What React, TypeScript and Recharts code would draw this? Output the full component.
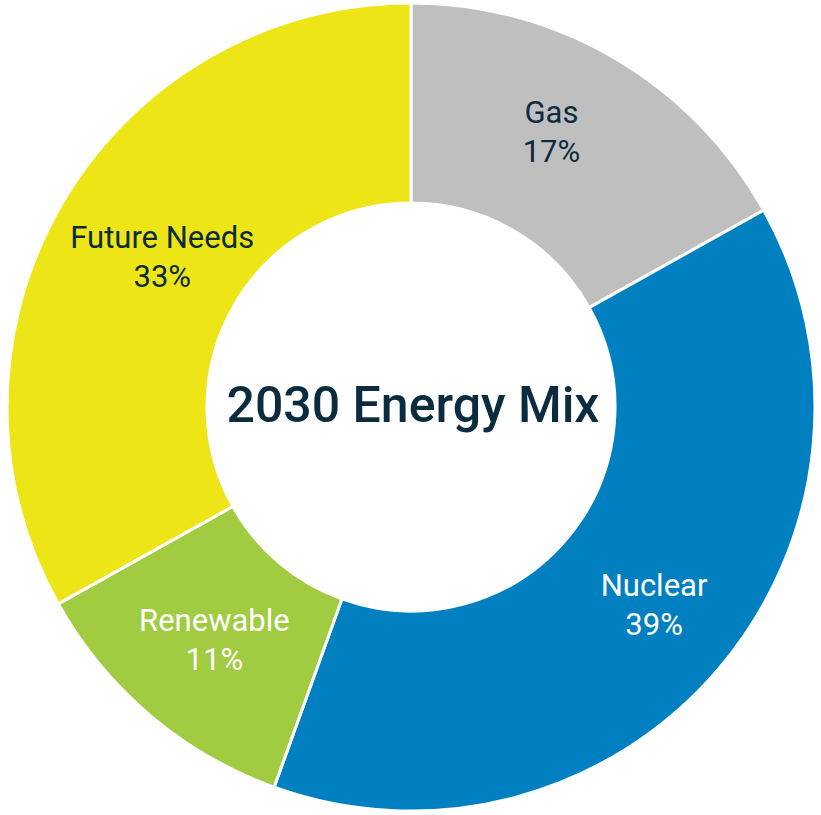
import { PieChart, Pie, Cell } from 'recharts';

const sources = ['Gas', 'Nuclear', 'Renewable', 'Future Needs'];
const shares = [16.9, 38.6, 11.4, 33.1];
const colors = ['#BFBFBF', '#0180C1', '#A1CB41', '#EDE516'];
const labelColors = ['#0B2B3E', '#FFFFFF', '#FFFFFF', '#0B2B3E'];
// small per-label nudges so the text sits where the original placed it
const labelNudge = [
  [-15, -11],
  [9, -2],
  [2, -2],
  [16, 4],
];

const data = sources.map((name, i) => ({ name, value: shares[i] }));
const RADIAN = Math.PI / 180;

const renderLabel = (props: any) => {
  const { cx, cy, midAngle, innerRadius, outerRadius, index } = props;
  const r = (innerRadius + outerRadius) / 2 + 3;
  const x = cx + r * Math.cos(-midAngle * RADIAN) + labelNudge[index][0];
  const y = cy + r * Math.sin(-midAngle * RADIAN) + labelNudge[index][1];
  return (
    <text x={x} y={y} textAnchor="middle" fill={labelColors[index]} fontSize={31} fontFamily="Roboto">
      <tspan x={x} dy={-8}>{sources[index]}</tspan>
      <tspan x={x} dy={39}>{Math.round(shares[index])}%</tspan>
    </text>
  );
};

export default function App() {
  return (
    <div style={{ position: 'absolute', left: 0, top: 0, width: 821, height: 815, background: '#fff' }}>
      <PieChart width={821} height={815} margin={{ top: 0, right: 0, bottom: 0, left: 0 }}>
        <Pie
          data={data}
          dataKey="value"
          nameKey="name"
          cx={411}
          cy={407}
          innerRadius={204}
          outerRadius={404}
          startAngle={90}
          endAngle={-270}
          stroke="#FFFFFF"
          strokeWidth={3}
          label={renderLabel}
          labelLine={false}
          isAnimationActive={false}
        >
          {data.map((d, i) => (
            <Cell key={d.name} fill={colors[i]} />
          ))}
        </Pie>
        <text x={413} y={405} textAnchor="middle" dominantBaseline="central" fill="#0B2B3E" fontSize={50} fontWeight={500} fontFamily="Roboto">
          2030 Energy Mix
        </text>
      </PieChart>
    </div>
  );
}
